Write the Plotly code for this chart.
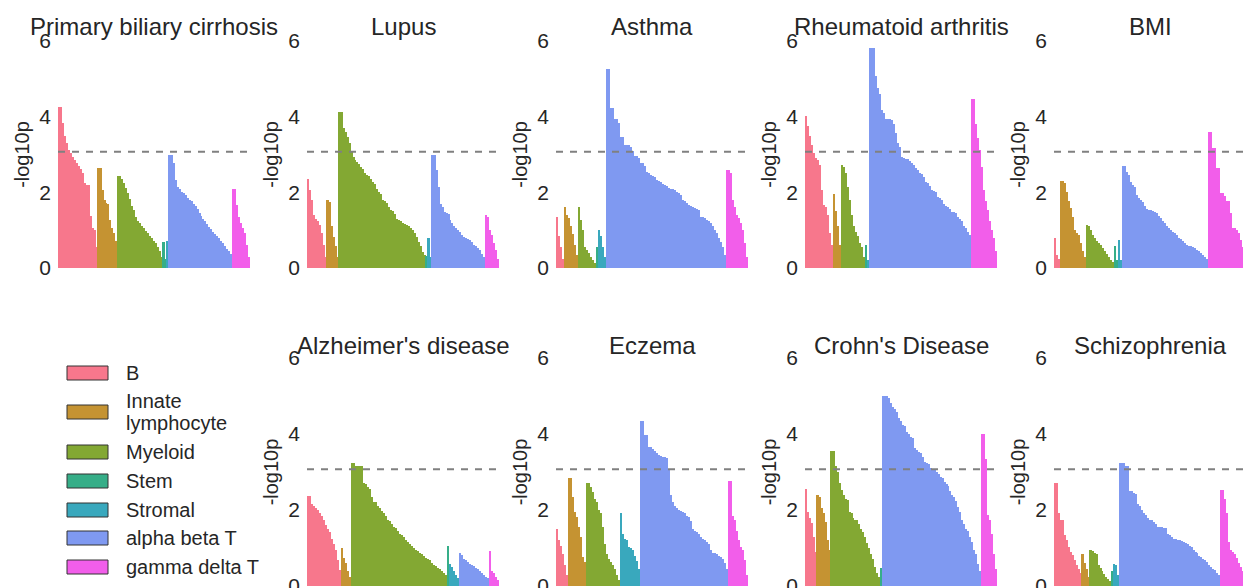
import plotly.graph_objects as go

# ---------------- data ----------------
CELL_TYPES = ["B", "Innate lymphocyte", "Myeloid", "Stem", "Stromal", "alpha beta T", "gamma delta T"]
COLORS = ["#F7778C", "#C59332", "#83A833", "#36AE88", "#39A8BD", "#7F99F1", "#F25EEA"]
THRESHOLD = 3.07
Y_TICKS = [0, 2, 4, 6]

TRAITS = ["Primary biliary cirrhosis", "Lupus", "Asthma", "Rheumatoid arthritis", "BMI",
          "Alzheimer's disease", "Eczema", "Crohn's Disease", "Schizophrenia"]

# each trait: values (-log10 p) per cell type group, in CELL_TYPES order, sorted descending
pbc = [
    [4.26, 4.26, 3.82, 3.49, 3.31, 3.12, 3.03, 2.93, 2.85, 2.78, 2.70, 2.61, 2.50, 2.24, 2.19, 2.19, 1.37, 1.05, 1.00, 0.56],
    [2.64, 2.64, 2.07, 1.80, 1.72, 1.70, 1.27, 1.05, 0.92, 0.72],
    [2.44, 2.42, 2.35, 2.25, 2.12, 1.98, 1.82, 1.65, 1.52, 1.35, 1.24, 1.18, 1.12, 1.05, 0.98, 0.92, 0.85, 0.78, 0.72, 0.65, 0.55, 0.45, 0.30],
    [0.68, 0.25],
    [0.72],
    [2.99, 2.99, 2.77, 2.33, 2.15, 2.08, 2.02, 1.97, 1.92, 1.86, 1.80, 1.76, 1.70, 1.64, 1.55, 1.45, 1.38, 1.30, 1.23, 1.15, 1.08, 1.02, 0.96, 0.90, 0.84, 0.78, 0.72, 0.65, 0.58, 0.50, 0.44, 0.36],
    [2.09, 2.09, 1.67, 1.36, 1.20, 1.05, 0.92, 0.62, 0.30],
]
lupus = [
    [2.35, 2.05, 1.80, 1.40, 1.30, 1.24, 1.14, 0.92, 0.60, 0.30],
    [1.80, 1.75, 1.10, 0.83, 0.57, 0.30],
    [4.13, 4.13, 3.69, 3.60, 3.47, 3.30, 3.08, 2.94, 2.85, 2.79, 2.75, 2.68, 2.62, 2.50, 2.45, 2.42, 2.36, 2.28, 2.22, 2.10, 2.02, 1.96, 1.80, 1.76, 1.72, 1.62, 1.54, 1.50, 1.42, 1.30, 1.27, 1.24, 1.20, 1.16, 1.14, 1.10, 1.05, 1.00, 0.92, 0.83, 0.68, 0.57, 0.42, 0.35],
    [0.33],
    [0.79, 0.30],
    [3.00, 3.00, 2.59, 2.15, 1.70, 1.62, 1.48, 1.45, 1.42, 1.26, 1.19, 1.12, 1.05, 1.01, 0.95, 0.88, 0.83, 0.80, 0.76, 0.73, 0.68, 0.62, 0.58, 0.53, 0.48, 0.38, 0.30],
    [1.39, 1.35, 1.01, 0.88, 0.66, 0.48, 0.25],
]
asthma = [
    [1.34, 0.85, 0.55, 0.25],
    [1.60, 1.40, 1.32, 1.10, 0.90, 0.60, 0.35],
    [1.60, 1.28, 1.00, 0.55, 0.48, 0.40, 0.30, 0.20, 0.12],
    [0.55],
    [1.01, 0.85, 0.55, 0.30],
    [5.25, 5.25, 4.22, 4.22, 3.95, 3.95, 3.82, 3.47, 3.47, 3.25, 3.25, 3.25, 3.20, 3.08, 2.96, 2.96, 2.90, 2.77, 2.77, 2.70,
     2.55, 2.50, 2.46, 2.44, 2.40, 2.33, 2.31, 2.28, 2.22, 2.20, 2.16, 2.11, 2.10, 2.08, 2.06, 2.02, 1.98, 1.92, 1.80, 1.76,
     1.72, 1.67, 1.65, 1.62, 1.58, 1.56, 1.52, 1.36, 1.35, 1.32, 1.28, 1.25, 1.18, 1.10, 1.01, 0.92, 0.80, 0.70, 0.55, 0.35],
    [2.59, 2.59, 2.52, 1.80, 1.60, 1.41, 1.32, 1.19, 1.01, 0.66, 0.30],
]
ra = [
    [4.02, 3.75, 3.49, 3.25, 3.03, 2.90, 2.86, 2.72, 2.07, 1.67, 1.60, 1.41, 0.92, 0.62],
    [1.95, 1.50, 1.10, 0.60],
    [2.71, 2.68, 2.50, 2.15, 1.80, 1.41, 1.10, 0.95, 0.85, 0.65, 0.55, 0.30],
    [0.62],
    [0.20],
    [5.82, 5.82, 5.82, 5.07, 4.75, 4.61, 4.17, 4.10, 3.93, 3.93, 3.93, 3.90, 3.80, 3.56, 3.30, 3.21, 2.94, 2.90, 2.87, 2.87,
     2.84, 2.77, 2.72, 2.64, 2.60, 2.50, 2.48, 2.40, 2.28, 2.24, 2.18, 2.07, 2.04, 2.00, 1.89, 1.86, 1.80, 1.70, 1.63, 1.60,
     1.55, 1.49, 1.48, 1.45, 1.36, 1.30, 1.25, 1.10, 1.05, 0.95, 0.88],
    [4.48, 4.48, 3.80, 3.43, 3.12, 2.68, 2.07, 1.76, 1.54, 1.23, 1.00, 0.80, 0.45],
]
bmi = [
    [0.79, 0.35, 0.25],
    [2.31, 2.31, 2.24, 2.00, 1.76, 1.58, 1.36, 1.00, 0.92, 0.88, 0.66, 0.45, 0.30],
    [1.14, 1.10, 1.00, 0.88, 0.80, 0.72, 0.66, 0.60, 0.52, 0.45, 0.38, 0.30, 0.22, 0.15],
    [0.59, 0.20],
    [0.75, 0.20],
    [2.70, 2.70, 2.55, 2.46, 2.28, 2.20, 2.13, 1.93, 1.85, 1.80, 1.75, 1.63, 1.55, 1.52, 1.52, 1.50, 1.48, 1.45, 1.38, 1.32,
     1.25, 1.19, 1.12, 1.05, 1.01, 0.95, 0.92, 0.88, 0.80, 0.76, 0.72, 0.65, 0.62, 0.58, 0.57, 0.55, 0.52, 0.48, 0.46, 0.40,
     0.35, 0.30, 0.25],
    [3.60, 3.60, 3.16, 3.16, 2.64, 2.64, 1.99, 1.99, 1.90, 1.76, 1.76, 1.45, 1.05, 1.05, 1.00, 0.92, 0.75, 0.55, 0.35],
]
alzheimers = [
    [2.37, 2.37, 2.17, 2.11, 2.06, 2.01, 1.91, 1.85, 1.73, 1.60, 1.50, 1.42, 1.25, 1.10, 0.94, 0.68, 0.41],
    [1.00, 0.75, 0.60, 0.40, 0.25],
    [3.25, 3.25, 3.17, 3.17, 3.17, 3.15, 2.70, 2.68, 2.61, 2.55, 2.33, 2.22, 2.20, 2.10, 2.04, 1.98, 1.91, 1.85, 1.73, 1.70,
     1.62, 1.56, 1.52, 1.45, 1.38, 1.34, 1.28, 1.20, 1.16, 1.10, 1.05, 1.00, 0.95, 0.91, 0.88, 0.84, 0.80, 0.75, 0.72, 0.68,
     0.60, 0.56, 0.52, 0.48, 0.45, 0.40, 0.35, 0.30],
    [1.05],
    [0.59, 0.50, 0.40, 0.30, 0.20],
    [0.88, 0.82, 0.72, 0.68, 0.62, 0.58, 0.55, 0.52, 0.48, 0.45, 0.40, 0.35, 0.30, 0.25, 0.20],
    [0.92, 0.40, 0.35, 0.25, 0.15],
]
eczema = [
    [1.51, 1.20, 1.05, 0.85, 0.55, 0.30],
    [2.85, 2.85, 2.35, 1.95, 1.82, 1.56, 1.30, 0.77, 0.63],
    [2.72, 2.72, 2.60, 2.48, 2.30, 2.22, 2.00, 1.91, 1.56, 1.10, 0.85, 0.72, 0.63, 0.55, 0.45, 0.30, 0.15],
    [],
    [1.91, 1.38, 1.25, 1.20, 1.03, 1.00, 0.96, 0.80, 0.65, 0.45],
    [4.33, 4.33, 3.98, 3.98, 3.65, 3.65, 3.60, 3.54, 3.50, 3.45, 3.43, 3.40, 3.40, 3.38, 3.07, 2.40, 2.22, 2.10, 2.04, 2.00,
     1.98, 1.96, 1.92, 1.85, 1.82, 1.70, 1.51, 1.46, 1.42, 1.38, 1.30, 1.25, 1.20, 1.16, 1.10, 0.94, 0.88, 0.86, 0.85, 0.80,
     0.76, 0.72, 0.60, 0.46],
    [2.76, 2.76, 1.84, 1.73, 1.45, 1.20, 1.03, 0.94, 0.68, 0.30],
]
crohns = [
    [2.55, 1.95, 1.80, 1.65, 1.30, 0.90],
    [2.39, 2.35, 2.04, 1.91, 1.69, 1.20, 0.94],
    [3.54, 3.54, 3.17, 3.01, 2.70, 2.52, 2.39, 2.30, 2.26, 1.95, 1.91, 1.80, 1.75, 1.73, 1.64, 1.50, 1.42, 1.30, 1.12, 1.00,
     0.85, 0.70, 0.50, 0.35, 0.24],
    [0.48],
    [],
    [5.01, 5.01, 5.00, 4.95, 4.81, 4.70, 4.65, 4.59, 4.42, 4.35, 4.25, 4.20, 4.06, 4.00, 3.93, 3.90, 3.62, 3.58, 3.52, 3.49,
     3.40, 3.27, 3.23, 3.20, 3.10, 3.08, 3.05, 3.01, 2.95, 2.88, 2.83, 2.75, 2.68, 2.62, 2.50, 2.40, 2.35, 2.25, 2.08, 1.95,
     1.73, 1.62, 1.51, 1.45, 1.29, 1.15, 0.94, 0.85, 0.59, 0.40],
    [3.99, 3.99, 3.33, 1.86, 1.73, 1.38, 0.85, 0.45],
]
schizophrenia = [
    [2.70, 2.70, 1.93, 1.73, 1.73, 1.34, 1.20, 1.03, 0.90, 0.81, 0.68, 0.55, 0.45, 0.33],
    [0.83, 0.60, 0.45, 0.25],
    [0.94, 0.92, 0.88, 0.85, 0.55, 0.48, 0.40, 0.32, 0.25, 0.18, 0.12],
    [0.40],
    [0.59, 0.55, 0.30],
    [3.25, 3.25, 3.25, 3.17, 3.17, 2.50, 2.50, 2.45, 2.42, 2.17, 2.10, 2.00, 1.92, 1.86, 1.78, 1.75, 1.73, 1.68, 1.64, 1.56,
     1.55, 1.54, 1.53, 1.52, 1.38, 1.35, 1.28, 1.25, 1.24, 1.20, 1.20, 1.18, 1.15, 1.13, 1.10, 1.06, 1.03, 0.96, 0.90, 0.88,
     0.80, 0.77, 0.70, 0.68, 0.62, 0.55, 0.50, 0.45, 0.41, 0.35, 0.30],
    [2.52, 2.52, 2.30, 1.91, 1.16, 0.94, 0.90, 0.85, 0.75, 0.60, 0.50, 0.40, 0.30],
]

PANEL_DATA = [pbc, lupus, asthma, ra, bmi, alzheimers, eczema, crohns, schizophrenia]
# grid slot (row, col) of each trait; slot (1, 0) holds the legend
PANEL_SLOTS = [(0, 0), (0, 1), (0, 2), (0, 3), (0, 4), (1, 1), (1, 2), (1, 3), (1, 4)]

# ---------------- layout geometry (pixels) ----------------
W, H = 1243, 588
COL_LEFT = [58, 307, 556, 805, 1054]
PANEL_W = 192
ROW_TOP = [41, 358]
ROW_BOTTOM = [268, 586]
TITLE_Y = [27, 345]
FONT = "Liberation Sans, Arial, Helvetica, sans-serif"
TEXT = "#262626"


def px_x(x):
    return x / W


def px_y(y):
    return 1 - y / H


fig = go.Figure()
layout = dict(
    width=W, height=H,
    margin=dict(l=0, r=0, t=0, b=0),
    paper_bgcolor="white", plot_bgcolor="white",
    barmode="overlay", bargap=0,
    showlegend=False,
    font=dict(family=FONT, color=TEXT),
)
shapes = []
annotations = []

for i, (trait, groups, (r, c)) in enumerate(zip(TRAITS, PANEL_DATA, PANEL_SLOTS), start=1):
    xa = "x" if i == 1 else f"x{i}"
    ya = "y" if i == 1 else f"y{i}"
    start = 0
    for ct, color, vals in zip(CELL_TYPES, COLORS, groups):
        idx = list(range(start, start + len(vals)))
        start += len(vals)
        if not vals:
            continue
        fig.add_trace(go.Bar(
            x=idx, y=vals, name=ct, marker=dict(color=color, line=dict(width=0)),
            width=1.0, xaxis=xa, yaxis=ya, showlegend=False,
            hovertemplate=trait + "<br>" + ct + ": %{y:.2f}<extra></extra>",
        ))
    n = start
    left = COL_LEFT[c]
    right = left + PANEL_W
    clip = max(0, right - W)
    right_vis = min(right, W)
    xr_end = n - 0.5 - clip / PANEL_W * n
    layout[f"xaxis{i}"] = dict(
        domain=[px_x(left), px_x(right_vis)], anchor=ya, range=[-0.5, xr_end],
        showgrid=False, zeroline=False, showline=False, showticklabels=False, ticks="",
        fixedrange=True,
    )
    layout[f"yaxis{i}"] = dict(
        domain=[px_y(ROW_BOTTOM[r]), px_y(ROW_TOP[r])], anchor=xa, range=[0, 6],
        tickvals=Y_TICKS, ticktext=[str(t) for t in Y_TICKS],
        tickfont=dict(size=21, color=TEXT, family=FONT),
        showgrid=False, zeroline=False, showline=False, ticks="",
        ticklabelstandoff=6, ticklabeloverflow="allow",
        title=dict(text="-log10p", font=dict(size=20, color=TEXT, family=FONT), standoff=4),
        automargin=False, fixedrange=True,
    )
    shapes.append(dict(
        type="line", xref=f"{xa} domain", yref=ya, x0=0, x1=1, y0=THRESHOLD, y1=THRESHOLD,
        line=dict(color="#808080", width=2, dash="7px,7px"), layer="above",
    ))
    annotations.append(dict(
        text=trait, xref="paper", yref="paper", x=px_x(left + PANEL_W / 2), y=px_y(TITLE_Y[r]),
        xanchor="center", yanchor="middle", showarrow=False,
        font=dict(size=24, color=TEXT, family=FONT),
    ))

# ---------------- legend (drawn in the empty grid slot) ----------------
LEG_KEY_X = (67, 108)
LEG_TEXT_X = 124
LEG_Y = [373, 412, 452, 481, 510, 538, 567]
for ct, color, yc in zip(CELL_TYPES, COLORS, LEG_Y):
    shapes.append(dict(
        type="rect", xref="paper", yref="paper",
        x0=px_x(LEG_KEY_X[0]), x1=px_x(LEG_KEY_X[1]), y0=px_y(yc + 7), y1=px_y(yc - 7),
        fillcolor=color, line=dict(color="#333333", width=1),
    ))
    if ct == "Innate lymphocyte":
        lines = [("Innate", yc - 11), ("lymphocyte", yc + 11)]
    else:
        lines = [(ct, yc)]
    for txt, ty in lines:
        annotations.append(dict(
            text=txt, xref="paper", yref="paper", x=px_x(LEG_TEXT_X), y=px_y(ty),
            xanchor="left", yanchor="middle", showarrow=False,
            font=dict(size=20, color=TEXT, family=FONT),
        ))

layout["shapes"] = shapes
layout["annotations"] = annotations
fig.update_layout(**layout)
fig.write_html(
    "out.html",
    config={"displayModeBar": False},
    post_script="document.body.style.margin='0';document.body.style.overflow='hidden';",
)
